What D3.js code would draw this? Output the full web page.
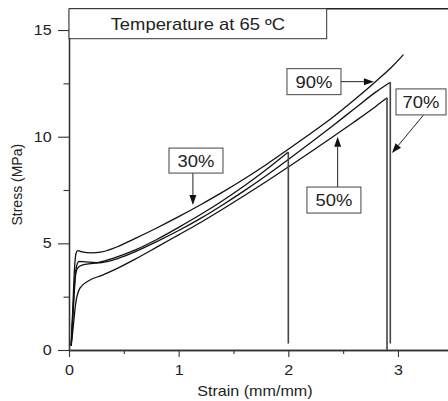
<!DOCTYPE html>
<html>
<head>
<meta charset="utf-8">
<script src="https://cdn.jsdelivr.net/npm/d3@7"></script>
<style>
  html, body { margin: 0; padding: 0; background: #fff; }
  svg { display: block; }
  text { font-family: "Liberation Sans", Arial, sans-serif; fill: #222; }
</style>
</head>
<body>
<div id="chart"></div>
<script>
const width = 448;
const height = 401;

// ---- data: [strain (mm/mm), stress (MPa)] ----
const curve30 = [[0.02,0.2],[0.04,2.2],[0.06,3.7],[0.09,4.15],[0.15,4.13],[0.25,4.1],[0.4,4.3],[0.6,4.68],
  [0.8,5.18],[1.0,5.75],[1.2,6.35],[1.4,7.0],[1.6,7.7],[1.8,8.46],[2.0,9.28]];
const curve50 = [[0.02,0.2],[0.035,0.9],[0.06,2.15],[0.1,2.9],[0.18,3.25],[0.3,3.5],[0.45,3.85],[0.6,4.25],
  [0.8,4.82],[1.0,5.4],[1.2,5.98],[1.4,6.6],[1.6,7.24],[1.8,7.9],[2.0,8.58],[2.2,9.27],[2.4,9.97],
  [2.6,10.69],[2.8,11.43],[2.9,11.82]];
const curve70 = [[0.02,0.2],[0.04,2.0],[0.06,3.5],[0.08,3.85],[0.12,3.98],[0.2,4.05],[0.3,4.1],[0.45,4.3],
  [0.6,4.6],[0.8,5.08],[1.0,5.6],[1.2,6.17],[1.4,6.8],[1.6,7.47],[1.8,8.18],[2.0,8.93],[2.2,9.7],
  [2.4,10.49],[2.6,11.3],[2.8,12.1],[2.93,12.55]];
const curve90 = [[0.02,0.2],[0.035,2.0],[0.05,3.8],[0.065,4.55],[0.08,4.66],[0.12,4.6],[0.2,4.55],[0.3,4.6],
  [0.45,4.86],[0.6,5.22],[0.8,5.72],[1.0,6.25],[1.2,6.81],[1.4,7.4],[1.6,8.03],[1.8,8.7],[2.0,9.41],
  [2.2,10.14],[2.4,10.89],[2.6,11.72],[2.8,12.6],[2.95,13.3],[3.05,13.85]];

// stress left after failure (vertical drop), null = no drop shown
const failure30 = 0.3;
const failure50 = 0.0;
const failure70 = 0.3;
const failure90 = null;

// axis ticks
const xMajor = [0, 1, 2, 3];
const xMinor = [0.5, 1.5, 2.5];
const yMajor = [0, 5, 10, 15];
const yMinor = [2.5, 7.5, 12.5];

// annotation labels: box centre and arrow tail/tip in data units
const labelText = ["30%", "50%", "70%", "90%"];
const labelCentre = [[1.158, 8.88], [2.416, 7.03], [3.21, 11.63], [2.234, 12.58]];
const labelBox = [[54, 25], [54, 26], [50, 26], [54, 26]];
const arrowTail = [[1.13, 8.3], [2.45, 6.42], [3.23, 11.0], [2.48, 12.58]];
const arrowTip = [[1.13, 6.8], [2.45, 10.0], [2.945, 9.23], [2.78, 12.58]];

const titleText = "Temperature at 65 ºC";
const xLabel = "Strain (mm/mm)";
const yLabel = "Stress (MPa)";

// ---- scales ----
const x = d3.scaleLinear([0, 3.5], [69, 452.8]);
const y = d3.scaleLinear([0, 16], [350, 8.7]);
const stretch = 1.15; // the source picture is slightly wider than tall

const svg = d3.select("#chart").append("svg")
  .attr("width", width)
  .attr("height", height)
  .attr("viewBox", [0, 0, width, height]);

// ---- axes ----
function styleAxis(g) {
  g.select(".domain").attr("stroke", "#333").attr("stroke-width", 1.3);
  g.selectAll(".tick line").attr("stroke", "#333").attr("stroke-width", 1.1);
  g.selectAll(".tick text")
    .attr("font-size", 14)
    .attr("font-family", "Liberation Sans, Arial, sans-serif")
    .attr("fill", "#222")
    .attr("transform", `scale(${stretch},1)`);
}

svg.append("g")
  .attr("transform", `translate(0,${y(0)})`)
  .call(d3.axisBottom(x).tickValues(xMajor).tickSize(7).tickSizeOuter(0).tickPadding(8)
    .tickFormat(d3.format("d")))
  .call(styleAxis);

svg.append("g")
  .attr("transform", `translate(0,${y(0)})`)
  .call(d3.axisBottom(x).tickValues(xMinor).tickSize(4).tickSizeOuter(0).tickFormat(""))
  .call(styleAxis);

svg.append("g")
  .attr("transform", `translate(${x(0)},0)`)
  .call(d3.axisLeft(y).tickValues(yMajor).tickSize(11).tickSizeOuter(0).tickPadding(4)
    .tickFormat(d3.format("d")))
  .call(styleAxis);

svg.append("g")
  .attr("transform", `translate(${x(0)},0)`)
  .call(d3.axisLeft(y).tickValues(yMinor).tickSize(5.5).tickSizeOuter(0).tickFormat(""))
  .call(styleAxis);

// top frame line
svg.append("line")
  .attr("x1", x(0)).attr("x2", x(3.5))
  .attr("y1", y(16)).attr("y2", y(16))
  .attr("stroke", "#222").attr("stroke-width", 1.5);

// axis titles
svg.append("text")
  .attr("transform", `translate(${(x(0) + x(3.5)) / 2 - 6},396) scale(${stretch},1)`)
  .attr("text-anchor", "middle")
  .attr("font-size", 14)
  .text(xLabel);

svg.append("text")
  .attr("transform", `translate(22,${y(7.75)}) rotate(-90)`)
  .attr("text-anchor", "middle")
  .attr("font-size", 14)
  .text(yLabel);

// title box
const titleRight = x(2.35);
svg.append("rect")
  .attr("x", x(0)).attr("y", y(16))
  .attr("width", titleRight - x(0)).attr("height", 30)
  .attr("fill", "#fff").attr("stroke", "#333").attr("stroke-width", 1);
svg.append("text")
  .attr("transform", `translate(${(x(0) + titleRight) / 2},${y(16) + 21.5}) scale(${stretch},1)`)
  .attr("text-anchor", "middle")
  .attr("font-size", 16)
  .text(titleText);

// ---- stress-strain curves ----
const line = d3.line()
  .x(d => x(d[0]))
  .y(d => y(d[1]))
  .curve(d3.curveMonotoneX);

const curves = [curve30, curve50, curve70, curve90];
const failures = [failure30, failure50, failure70, failure90];

svg.append("g")
  .selectAll("path")
  .data(curves)
  .join("path")
  .attr("d", line)
  .attr("fill", "none")
  .attr("stroke", "#111")
  .attr("stroke-width", 1.3)
  .attr("stroke-linejoin", "round");

// vertical drops at failure
svg.append("g")
  .selectAll("line")
  .data(curves.map((c, i) => [c[c.length - 1], failures[i]]).filter(d => d[1] !== null))
  .join("line")
  .attr("x1", d => x(d[0][0])).attr("x2", d => x(d[0][0]))
  .attr("y1", d => y(d[0][1])).attr("y2", d => y(d[1]))
  .attr("stroke", "#444")
  .attr("stroke-width", 1.6);

// ---- labels with arrows ----
const labels = svg.append("g");
labelText.forEach((t, i) => {
  const [cx, cy] = [x(labelCentre[i][0]), y(labelCentre[i][1])];
  const [w, h] = labelBox[i];
  const [x0, y0] = [x(arrowTail[i][0]), y(arrowTail[i][1])];
  const [x1, y1] = [x(arrowTip[i][0]), y(arrowTip[i][1])];
  const ang = Math.atan2(y1 - y0, x1 - x0);
  const len = 10, half = 3.5;
  const bx = x1 - len * Math.cos(ang), by = y1 - len * Math.sin(ang);

  labels.append("line")
    .attr("x1", x0).attr("y1", y0).attr("x2", bx).attr("y2", by)
    .attr("stroke", "#222").attr("stroke-width", 1);
  labels.append("path")
    .attr("d", d3.line()([
      [x1, y1],
      [bx + half * Math.sin(ang), by - half * Math.cos(ang)],
      [bx - half * Math.sin(ang), by + half * Math.cos(ang)]
    ]) + "Z")
    .attr("fill", "#111");

  labels.append("rect")
    .attr("x", cx - w / 2).attr("y", cy - h / 2)
    .attr("width", w).attr("height", h)
    .attr("fill", "#fff").attr("stroke", "#444").attr("stroke-width", 1);
  labels.append("text")
    .attr("transform", `translate(${cx},${cy + 6}) scale(${stretch},1)`)
    .attr("text-anchor", "middle")
    .attr("font-size", 16)
    .text(t);
});
</script>
</body>
</html>
